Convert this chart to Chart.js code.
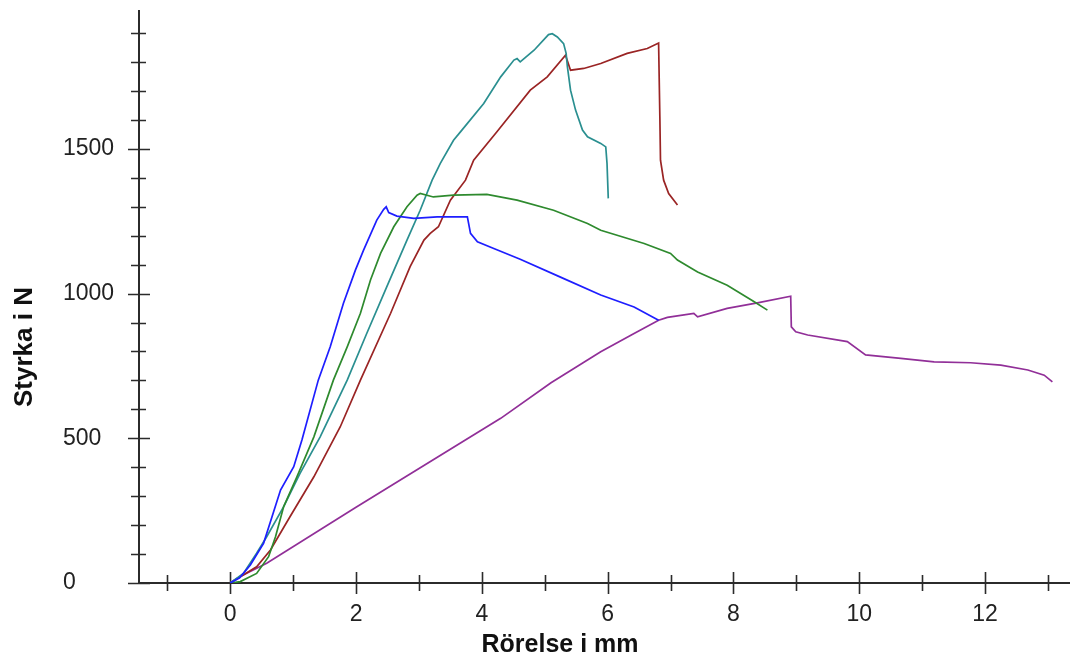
<!DOCTYPE html>
<html>
<head>
<meta charset="utf-8">
<title>Styrka och rörelse</title>
<script src="https://cdn.jsdelivr.net/npm/chart.js@4/dist/chart.umd.min.js"></script>
<style>
  html, body { margin: 0; padding: 0; background: #fff; }
  #wrap { width: 1070px; height: 659px; position: relative; }
</style>
</head>
<body>
<div id="wrap"><canvas id="c"></canvas></div>
<script>
// Tick values
const xTickValues = [-1, 0, 1, 2, 3, 4, 5, 6, 7, 8, 9, 10, 11, 12, 13];
const xLabelValues = [0, 2, 4, 6, 8, 10, 12];
const yLabelValues = [0, 500, 1000, 1500];

// Prov 1 (blå)
const blueMm = [0, 0.15, 0.32, 0.53, 0.80, 1.01, 1.14, 1.40, 1.59, 1.80, 1.99, 2.12, 2.33, 2.44, 2.48, 2.52, 2.65, 2.92, 3.29, 3.77, 3.82, 3.93, 4.19, 4.61, 5.25, 5.89, 6.42, 6.81];
const blueN  = [0, 18, 62, 137, 321, 402, 494, 701, 816, 967, 1081, 1150, 1254, 1291, 1300, 1280, 1268, 1260, 1265, 1265, 1208, 1179, 1156, 1119, 1057, 995, 954, 908];

// Prov 2 (grön)
const greenMm = [0, 0.16, 0.42, 0.61, 0.72, 0.85, 1.06, 1.33, 1.64, 1.86, 2.07, 2.23, 2.39, 2.60, 2.81, 2.97, 3.02, 3.23, 3.55, 4.08, 4.56, 5.14, 5.68, 5.89, 6.58, 7.00, 7.11, 7.43, 7.90, 8.33, 8.54];
const greenN  = [0, 5, 33, 91, 160, 264, 367, 505, 701, 816, 932, 1047, 1139, 1231, 1300, 1340, 1346, 1334, 1340, 1343, 1323, 1288, 1242, 1219, 1173, 1139, 1116, 1075, 1029, 972, 943];

// Prov 3 (turkos)
const tealMm = [0, 0.21, 0.42, 0.58, 0.85, 1.11, 1.43, 1.86, 2.17, 2.49, 2.81, 3.02, 3.21, 3.34, 3.55, 3.66, 4.03, 4.30, 4.51, 4.56, 4.61, 4.83, 5.06, 5.12, 5.20, 5.30, 5.34, 5.36, 5.41, 5.49, 5.60, 5.68, 5.89, 5.97, 5.99, 6.01];
const tealN  = [0, 33, 103, 160, 264, 379, 505, 701, 862, 1024, 1185, 1288, 1392, 1450, 1530, 1559, 1657, 1749, 1807, 1812, 1801, 1841, 1895, 1898, 1887, 1864, 1830, 1784, 1703, 1634, 1565, 1542, 1519, 1507, 1450, 1329];

// Prov 4 (mörkröd)
const redMm = [0, 0.42, 0.64, 0.95, 1.33, 1.75, 2.07, 2.55, 2.86, 3.08, 3.18, 3.31, 3.50, 3.74, 3.87, 4.24, 4.77, 5.04, 5.33, 5.41, 5.62, 5.89, 6.31, 6.63, 6.81, 6.83, 6.84, 6.89, 6.97, 7.11];
const redN  = [0, 56, 114, 229, 367, 540, 701, 932, 1093, 1185, 1208, 1231, 1323, 1392, 1461, 1559, 1703, 1749, 1824, 1772, 1778, 1795, 1830, 1847, 1866, 1611, 1461, 1392, 1346, 1306];

// Prov 5 (lila)
const purpleMm = [0, 0.15, 0.58, 2.00, 4.30, 5.10, 5.89, 6.42, 6.81, 6.95, 7.37, 7.43, 7.90, 8.38, 8.91, 8.92, 8.99, 9.18, 9.81, 10.10, 10.66, 11.19, 11.77, 12.25, 12.68, 12.94, 13.07];
const purpleN  = [0, 22, 68, 262, 569, 692, 799, 862, 908, 918, 932, 920, 949, 968, 991, 885, 868, 857, 834, 788, 776, 764, 761, 753, 736, 718, 695];

const series = [
  { mm: blueMm,   n: blueN,   color: '#1e1eff' },
  { mm: greenMm,  n: greenN,  color: '#2e8a2e' },
  { mm: tealMm,   n: tealN,   color: '#2a8f90' },
  { mm: redMm,    n: redN,    color: '#9a2424' },
  { mm: purpleMm, n: purpleN, color: '#912f98' }
];

const AXIS_COLOR = '#2b2b2b';
const FONT = '"Liberation Sans", Arial, sans-serif';

// Axis lines with tick marks crossing the axis, and the axis titles
const axesPlugin = {
  id: 'crossAxes',
  beforeDatasetsDraw(chart) {
    const { ctx, scales: { x, y } } = chart;
    const ax = x.getPixelForValue(x.min);
    const ay = y.getPixelForValue(0);
    ctx.save();
    ctx.strokeStyle = AXIS_COLOR;
    ctx.lineCap = 'butt';

    ctx.lineWidth = 2;
    ctx.beginPath();
    ctx.moveTo(ax, y.getPixelForValue(y.max));
    ctx.lineTo(ax, ay + 1);
    ctx.moveTo(ax, ay);
    ctx.lineTo(chart.width, ay);
    ctx.stroke();

    ctx.lineWidth = 1.6;
    ctx.beginPath();
    y.ticks.forEach(t => {
      const py = Math.round(y.getPixelForValue(t.value)) + 0.5;
      const major = yLabelValues.includes(t.value);
      ctx.moveTo(ax - (major ? 11 : 8), py);
      ctx.lineTo(ax + (major ? 11 : 7), py);
    });
    xTickValues.forEach(v => {
      const px = Math.round(x.getPixelForValue(v)) + 0.5;
      const major = xLabelValues.includes(v);
      ctx.moveTo(px, ay - (major ? 11 : 8));
      ctx.lineTo(px, ay + (major ? 11 : 8));
    });
    ctx.stroke();
    ctx.restore();
  },
  afterDraw(chart) {
    const { ctx } = chart;
    ctx.save();
    ctx.fillStyle = '#111';
    ctx.textAlign = 'center';
    ctx.textBaseline = 'middle';
    ctx.font = 'bold 25px ' + FONT;
    ctx.fillText('Rörelse i mm', 560, 645);
    ctx.font = 'bold 26px ' + FONT;
    ctx.translate(25, 347);
    ctx.rotate(-Math.PI / 2);
    ctx.fillText('Styrka i N', 0, 0);
    ctx.restore();
  }
};

const whiteBg = {
  id: 'whiteBg',
  beforeDraw(chart) {
    const { ctx } = chart;
    ctx.save();
    ctx.fillStyle = '#fff';
    ctx.fillRect(0, 0, chart.width, chart.height);
    ctx.restore();
  }
};

new Chart(document.getElementById('c'), {
  type: 'scatter',
  data: {
    datasets: series.map(s => ({
      data: s.mm.map((v, i) => ({ x: v, y: s.n[i] })),
      showLine: true,
      borderColor: s.color,
      backgroundColor: s.color,
      borderWidth: 1.7,
      pointRadius: 0,
      tension: 0
    }))
  },
  options: {
    responsive: true,
    maintainAspectRatio: false,
    animation: false,
    layout: { padding: { left: 63, top: 10, right: 0, bottom: 0 } },
    plugins: { legend: { display: false }, tooltip: { enabled: false } },
    scales: {
      x: {
        type: 'linear',
        min: -1.45,
        max: 13.35,
        grid: { display: false },
        border: { display: false },
        afterFit: s => { s.height = 76; s.paddingLeft = 0; s.paddingRight = 0; },
        afterBuildTicks: s => { s.ticks = xTickValues.map(v => ({ value: v })); },
        ticks: {
          autoSkip: false,
          maxRotation: 0,
          padding: 10,
          color: '#222',
          font: { family: FONT, size: 23 },
          callback: v => (xLabelValues.includes(v) ? String(v) : '')
        }
      },
      y: {
        type: 'linear',
        min: 0,
        max: 1980,
        grid: { display: false },
        border: { display: false },
        afterFit: s => { s.width = 76; s.paddingTop = 0; s.paddingBottom = 0; },
        ticks: {
          stepSize: 100,
          includeBounds: false,
          autoSkip: false,
          crossAlign: 'far',
          color: '#222',
          font: { family: FONT, size: 23 },
          callback: v => (yLabelValues.includes(v) ? String(v) : '')
        }
      }
    }
  },
  plugins: [whiteBg, axesPlugin]
});
</script>
</body>
</html>
